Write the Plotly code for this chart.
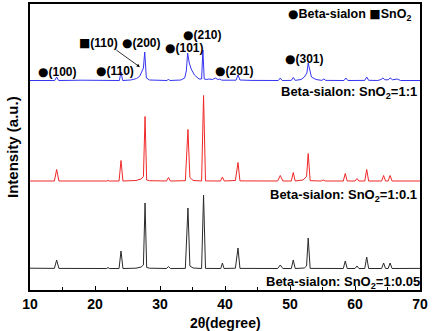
import plotly.graph_objects as go

# ---- data: (2theta, intensity above baseline, a.u.) ----
black_pts = [(10, 0.8), (13.75, 0.6), (14.1, 9), (14.45, 0.6), (21.8, 0.5), (22.0, 1.5), (22.2, 0.5),
             (23.7, 0.5), (24.0, 18), (24.3, 0.5), (26.3, 0.8), (27.1, 2.0), (27.45, 4), (27.7, 66),
             (27.95, 1.5), (28.4, 0.8), (31.0, 0.5), (31.3, 2.5), (31.6, 0.5), (33.9, 0.6), (34.3, 61),
             (34.6, 3), (35.1, 1.0), (36.4, 0.5), (36.7, 74), (37.0, 0.6), (39.35, 0.5), (39.6, 6),
             (39.85, 0.5), (41.6, 0.8), (42.0, 21), (42.3, 0.6), (48.1, 0.5), (48.5, 4), (48.9, 0.5),
             (50.2, 0.5), (50.5, 9), (50.8, 0.5), (52.2, 1.0), (52.55, 3), (52.8, 31), (53.1, 0.6),
             (58.2, 0.5), (58.5, 8), (58.8, 0.5), (60.0, 0.5), (60.3, 3), (60.6, 0.5), (61.5, 0.5),
             (61.8, 12), (62.1, 0.5), (64.1, 0.5), (64.4, 6), (64.7, 0.5), (65.1, 0.5), (65.4, 6),
             (65.7, 0.5), (70, 0.6)]

red_pts = [(10, 0.5), (13.75, 0.5), (14.1, 12), (14.45, 0.5), (21.8, 0.5), (22.0, 1), (22.2, 0.5),
           (23.7, 0.5), (24.0, 21), (24.3, 0.5), (26.3, 1), (27.1, 2.5), (27.45, 5), (27.7, 65),
           (27.95, 1.5), (28.4, 0.8), (31.0, 0.5), (31.3, 4), (31.6, 0.5), (33.9, 0.8), (34.3, 52),
           (34.6, 4), (35.1, 1), (36.4, 0.5), (36.7, 86), (37.0, 0.6), (39.3, 0.5), (39.6, 4.5),
           (39.9, 0.5), (41.6, 1), (42.0, 19), (42.3, 0.6), (48.1, 0.5), (48.5, 6), (48.9, 0.5),
           (50.2, 0.5), (50.5, 9), (50.8, 0.5), (52.0, 1.5), (52.55, 5), (52.8, 28), (53.1, 0.8),
           (54.8, 0.5), (55.1, 1.5), (55.4, 0.5), (58.2, 0.5), (58.5, 8), (58.8, 0.5), (60.0, 0.5),
           (60.3, 3), (60.6, 0.5), (61.5, 0.5), (61.8, 12), (62.1, 0.5), (64.1, 0.5), (64.4, 6),
           (64.7, 0.5), (65.1, 0.5), (65.4, 6), (65.7, 0.5), (70, 0.5)]

blue_pts = [(10, 0.5), (13.8, 0.5), (14.1, 4), (14.4, 0.5), (18, 0.8), (21.5, 0.5), (23.75, 0.5),
            (24.0, 9), (24.25, 0.5), (25.5, 1), (26.4, 2.5), (26.9, 5), (27.3, 10), (27.45, 13),
            (27.65, 29), (27.9, 3), (28.4, 1), (29.5, 0.8), (31.1, 0.5), (31.3, 2), (31.5, 0.5),
            (33.2, 1), (33.8, 3), (34.05, 10), (34.25, 28), (34.5, 18), (34.8, 12), (35.3, 6),
            (36.0, 2), (36.4, 2), (36.6, 31), (36.8, 2), (37.2, 1.5), (37.5, 2), (38.1, 1.5),
            (38.5, 3), (38.9, 1.5), (39.2, 2), (39.5, 0.8), (41.7, 0.8), (42.0, 6), (42.3, 1),
            (44, 0.6), (48.2, 0.5), (48.5, 3), (48.8, 0.5), (50.2, 0.6), (50.5, 3.5), (50.8, 0.6),
            (51.7, 1.5), (52.2, 4), (52.6, 8), (52.8, 18), (53.3, 4), (54.0, 1.5), (54.9, 0.6),
            (55.2, 2), (55.5, 0.6), (58.3, 0.5), (58.6, 3), (58.9, 0.5), (61.5, 0.6), (61.8, 4),
            (62.1, 0.7), (63.5, 0.5), (64.0, 1.5), (64.3, 3), (64.6, 1.2), (65.1, 1.2), (65.4, 3),
            (65.8, 1.2), (66.5, 2), (67.0, 0.5), (70, 0.5)]

series_names = ["Beta-sialon: SnO<sub>2</sub>=1:0.05",
                "Beta-sialon: SnO<sub>2</sub>=1:0.1",
                "Beta-sialon: SnO<sub>2</sub>=1:1"]

peak_symbols = ["\u25cf", "\u25cf", "\u25a0", "\u25cf", "\u25cf", "\u25cf", "\u25cf", "\u25cf"]
peak_labels = ["(100)", "(110)", "(110)", "(200)", "(101)", "(210)", "(201)", "(301)"]
peak_label_x = [14.3, 23.1, 20.5, 27.1, 33.7, 36.6, 41.5, 52.2]
peak_label_y = [218, 219, 247, 247, 242, 255, 219, 231]

x_ticks = [10, 20, 30, 40, 50, 60, 70]

# ---- styling ----
offsets = [21, 108.5, 209]
colors = ["#2a2a2a", "#f02828", "#3535f0"]
FONT = "Arial, Liberation Sans, sans-serif"
SYM = "<span style='font-family:DejaVu Sans;font-size:12px'>%s</span>"

fig = go.Figure()
for pts, off, col in zip([black_pts, red_pts, blue_pts], offsets, colors):
    xs = [p[0] for p in pts]
    ys = [p[1] + off for p in pts]
    fig.add_trace(go.Scatter(x=xs, y=ys, mode="lines",
                             line=dict(color=col, width=1), showlegend=False,
                             hoverinfo="skip"))

# series labels (right aligned)
name_y = [8, 95, 198]
name_shift = [2, -1, -1]
for name, xs_, yy in zip(series_names, name_shift, name_y):
    fig.add_annotation(x=70, y=yy, xref="x", yref="y", xshift=xs_,
                       text="<b>" + name + "</b>",
                       showarrow=False, xanchor="right", yanchor="middle",
                       font=dict(family=FONT, size=13, color="black"))

for s, t, xx, yy in zip(peak_symbols, peak_labels, peak_label_x, peak_label_y):
    fig.add_annotation(x=xx, y=yy, xref="x", yref="y", text=SYM % s + "<b>" + t + "</b>",
                       showarrow=False, xanchor="center", yanchor="middle",
                       font=dict(family=FONT, size=12, color="black"))

# legend text
fig.add_annotation(x=68.9, y=275, xref="x", yref="y",
                   text=SYM % "\u25cf" + "<b>Beta-sialon </b>" + SYM % "\u25a0" + "<b>SnO<sub>2</sub></b>",
                   showarrow=False, xanchor="right", yanchor="middle",
                   font=dict(family=FONT, size=12.5, color="black"))

# arrow to SnO2 shoulder
fig.add_annotation(x=26.9, y=223, xref="x", yref="y", text="", showarrow=True,
                   ax=-25, ay=-18, arrowhead=2, arrowsize=0.8, arrowwidth=0.8,
                   arrowcolor="black")

# axis titles
fig.add_annotation(x=0.5, y=0, xref="paper", yref="paper", yshift=-33,
                   text="<b>2\u03b8(degree)</b>", showarrow=False,
                   xanchor="center", yanchor="middle",
                   font=dict(family=FONT, size=14, color="black"))
fig.add_annotation(x=0, y=0.5, xref="paper", yref="paper", xshift=-18,
                   text="<b>Intensity (a.u.)</b>", showarrow=False, textangle=-90,
                   xanchor="center", yanchor="middle",
                   font=dict(family=FONT, size=15, color="black"))

fig.update_layout(
    width=433, height=331,
    margin=dict(l=30, r=13, t=4, b=41, autoexpand=False),
    paper_bgcolor="white", plot_bgcolor="white",
    font=dict(family=FONT, color="black"),
)
fig.update_xaxes(
    range=[10, 70], tickvals=x_ticks, ticktext=["<b>%d</b>" % v for v in x_ticks],
    ticks="inside", ticklen=4, tickwidth=1, tickcolor="black", automargin=False,
    minor=dict(dtick=5, tick0=10, ticks="inside", ticklen=3, tickcolor="black", showgrid=False),
    showline=True, linecolor="black", linewidth=1.5, mirror=True, showgrid=False, zeroline=False,
    tickfont=dict(family=FONT, size=14, color="black"),
)
fig.update_yaxes(
    range=[0, 286], showticklabels=False, ticks="", showgrid=False, zeroline=False,
    showline=True, linecolor="black", linewidth=1.5, mirror=True, automargin=False,
)

fig.write_html("out.html", config={"displayModeBar": False},
               post_script="document.body.style.margin='0';document.body.style.overflow='hidden';")
